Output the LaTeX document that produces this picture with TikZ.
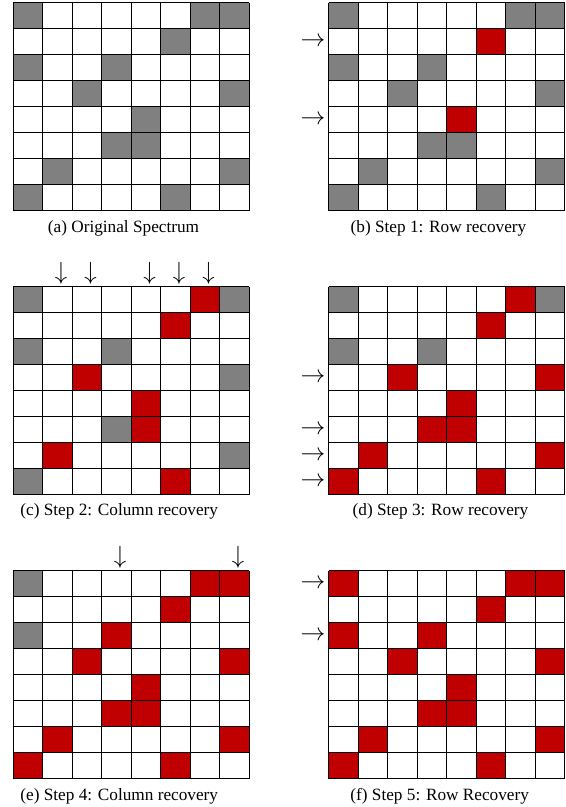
\documentclass[tikz,border=0pt]{standalone}
\usepackage{fontspec}
\setmainfont{Liberation Serif}
\definecolor{cellred}{RGB}{192,0,0}
\definecolor{cellgray}{RGB}{128,128,128}
\newcommand\cellsfill[4]{%
  \foreach \r/\c in {#4} {\fill[#3] (#1+\c*29.5,#2+\r*26) rectangle ++(29.5,26);}}
\newcommand\gridlines[2]{%
  \foreach \i in {0,...,8} {
    \draw[gridline] (#1+\i*29.5,#2) -- (#1+\i*29.5,#2+208);
    \draw[gridline] (#1,#2+\i*26) -- (#1+236,#2+\i*26);}}
\newcommand\rowarrows[3]{%
  \foreach \r in {#3} {\node[arrowtxt,anchor=east] at (#1-3,#2+\r*26+13) {$\rightarrow$};}}
\newcommand\colarrows[3]{%
  \foreach \c in {#3} {\node[arrowtxt,anchor=south] at (#1+\c*29.5+18.25,#2-2) {$\downarrow$};}}
\begin{document}
\begin{tikzpicture}[x=1bp,y=-1bp,
  gridline/.style={black,line width=0.9bp},
  arrowtxt/.style={inner sep=0pt,font=\fontsize{23}{23}\selectfont},
  captxt/.style={inner sep=0pt,anchor=base,font=\fontsize{17.3}{17.3}\selectfont}]
\useasboundingbox (0,0) rectangle (566,807);
\fill[white] (0,0) rectangle (566,807);
% (a)
\cellsfill{13.3}{2.7}{cellgray}{0/0,0/6,0/7,1/5,2/0,2/3,3/2,3/7,4/4,5/3,5/4,6/1,6/7,7/0,7/5}
\gridlines{13.3}{2.7}
\node[captxt] (capa) at (123.5,232.5) {(a) Original Spectrum};
% (b)
\cellsfill{328.7}{2.7}{cellgray}{0/0,0/6,0/7,2/0,2/3,3/2,3/7,5/3,5/4,6/1,6/7,7/0,7/5}
\cellsfill{328.7}{2.7}{cellred}{1/5,4/4}
\gridlines{328.7}{2.7}
\rowarrows{328.7}{2.7}{1,4}
\node[captxt] (capb) at (438.5,232.5) {(b) Step 1: Row recovery};
% (c)
\cellsfill{13.3}{286.5}{cellgray}{0/0,0/7,2/0,2/3,3/7,5/3,6/7,7/0}
\cellsfill{13.3}{286.5}{cellred}{0/6,1/5,3/2,4/4,5/4,6/1,7/5}
\gridlines{13.3}{286.5}
\colarrows{13.3}{286.5}{1,2,4,5,6}
\node[captxt] (capc) at (119.2,515.5) {(c) Step 2: Column recovery};
% (d)
\cellsfill{328.7}{286.5}{cellgray}{0/0,0/7,2/0,2/3}
\cellsfill{328.7}{286.5}{cellred}{0/6,1/5,3/2,3/7,4/4,5/3,5/4,6/1,6/7,7/0,7/5}
\gridlines{328.7}{286.5}
\rowarrows{328.7}{286.5}{3,5,6,7}
\node[captxt] (capd) at (440.5,515.5) {(d) Step 3: Row recovery};
% (e)
\cellsfill{13.3}{570.7}{cellgray}{0/0,2/0}
\cellsfill{13.3}{570.7}{cellred}{0/6,0/7,1/5,2/3,3/2,3/7,4/4,5/3,5/4,6/1,6/7,7/0,7/5}
\gridlines{13.3}{570.7}
\colarrows{13.3}{570.7}{3,7}
\node[captxt] (cape) at (119.2,800) {(e) Step 4: Column recovery};
% (f)
\cellsfill{328.7}{570.7}{cellred}{0/0,0/6,0/7,1/5,2/0,2/3,3/2,3/7,4/4,5/3,5/4,6/1,6/7,7/0,7/5}
\gridlines{328.7}{570.7}
\rowarrows{328.7}{570.7}{0,2}
\node[captxt] (capf) at (439.7,800) {(f) Step 5: Row Recovery};
\end{tikzpicture}
\end{document}
